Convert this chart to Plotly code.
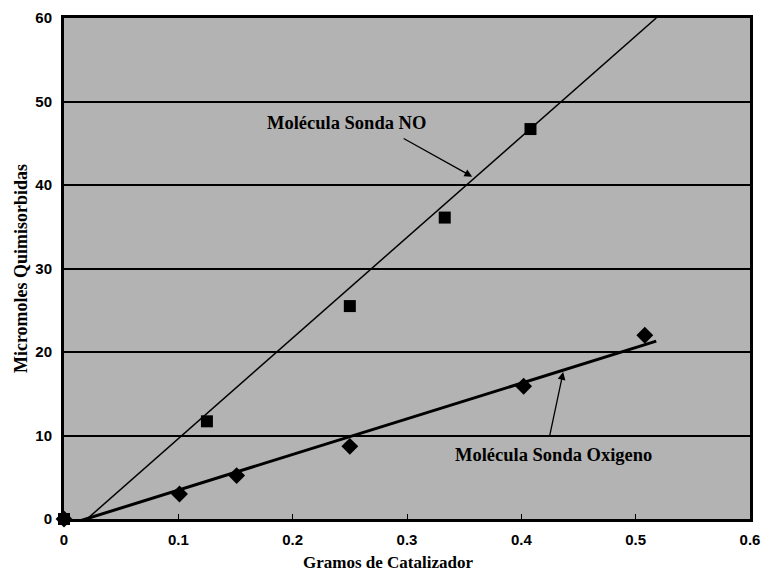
import plotly.graph_objects as go

# Data
no_x = [0.0, 0.125, 0.25, 0.333, 0.408]
no_y = [0.0, 11.7, 25.5, 36.1, 46.7]
ox_x = [0.0, 0.101, 0.151, 0.25, 0.402, 0.508]
ox_y = [0.0, 3.0, 5.2, 8.7, 15.9, 22.0]

# Trend lines (endpoints)
no_fit_x = [0.016, 0.518]
no_fit_y = [-0.5, 60.0]
ox_fit_x = [0.012, 0.518]
ox_fit_y = [-0.3, 21.3]

x_ticks = [0, 0.1, 0.2, 0.3, 0.4, 0.5, 0.6]
x_labels = ["0", "0.1", "0.2", "0.3", "0.4", "0.5", "0.6"]
y_ticks = [0, 10, 20, 30, 40, 50, 60]

serif = "Liberation Serif, Times New Roman, serif"
sans = "Liberation Sans, Arial, sans-serif"

fig = go.Figure()
fig.add_trace(go.Scatter(x=no_fit_x, y=no_fit_y, mode="lines",
                         line=dict(color="black", width=1.5), showlegend=False))
fig.add_trace(go.Scatter(x=ox_fit_x, y=ox_fit_y, mode="lines",
                         line=dict(color="black", width=3), showlegend=False))
fig.add_trace(go.Scatter(x=no_x, y=no_y, mode="markers",
                         marker=dict(symbol="square", size=12, color="black"),
                         showlegend=False, cliponaxis=False))
fig.add_trace(go.Scatter(x=ox_x, y=ox_y, mode="markers",
                         marker=dict(symbol="diamond", size=13, color="black"),
                         showlegend=False, cliponaxis=False))

fig.add_annotation(x=0.357, y=41.0, ax=-70, ay=-39, axref="pixel", ayref="pixel",
                   text="", showarrow=True, arrowhead=2, arrowsize=1.2,
                   arrowwidth=1.3, arrowcolor="black")
fig.add_annotation(x=0.247, y=47.4, text="<b>Molécula Sonda NO</b>", showarrow=False,
                   font=dict(family=serif, size=18.5, color="black"))
fig.add_annotation(x=0.4366, y=17.6, ax=-14, ay=66, axref="pixel", ayref="pixel",
                   text="", showarrow=True, arrowhead=2, arrowsize=1.2,
                   arrowwidth=1.3, arrowcolor="black")
fig.add_annotation(x=0.428, y=7.7, text="<b>Molécula Sonda Oxigeno</b>", showarrow=False,
                   font=dict(family=serif, size=18.5, color="black"))

# x-axis title placed as paper annotation (slightly left of centre, as in the original)
fig.add_annotation(x=0.472, y=-0.086, xref="paper", yref="paper",
                   xanchor="center", yanchor="middle", showarrow=False,
                   text="<b>Gramos de Catalizador</b>",
                   font=dict(family=serif, size=17, color="black"))

fig.update_layout(
    width=764, height=573,
    margin=dict(l=64, r=14, t=18, b=54),
    paper_bgcolor="white",
    plot_bgcolor="#b3b3b3",
    showlegend=False,
)
fig.update_xaxes(range=[0, 0.6], tickvals=x_ticks, ticktext=x_labels,
                 showgrid=False, zeroline=False, automargin=False,
                 showline=True, linecolor="black", linewidth=3, mirror=True,
                 ticks="inside", ticklen=5, tickcolor="black", ticklabelstandoff=5,
                 ticklabeloverflow="allow",
                 tickfont=dict(family=sans, size=15, color="black", weight="bold"))
fig.update_yaxes(range=[0, 60], tickvals=y_ticks,
                 showgrid=True, gridcolor="black", gridwidth=1.5, zeroline=False,
                 automargin=False,
                 showline=True, linecolor="black", linewidth=3, mirror=True,
                 ticks="inside", ticklen=5, tickcolor="black", ticklabelstandoff=6,
                 tickfont=dict(family=sans, size=15, color="black", weight="bold"),
                 title=dict(text="<b>Micromoles Quimisorbidas</b>", standoff=4,
                            font=dict(family=serif, size=18, color="black")))

fig.write_html("out.html", config={"displayModeBar": False},
               post_script="document.body.style.margin='0';document.body.style.overflow='hidden';")
